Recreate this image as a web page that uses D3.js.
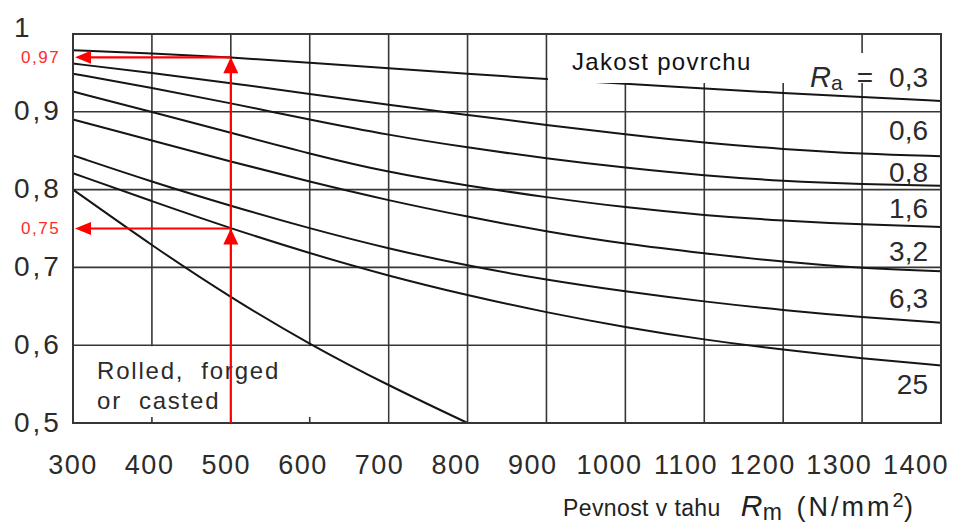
<!DOCTYPE html>
<html>
<head>
<meta charset="utf-8">
<script src="https://cdn.jsdelivr.net/npm/d3@7"></script>
<style>
  html, body { margin: 0; padding: 0; background: #fff; }
  svg { display: block; font-family: "Liberation Sans", Arial, sans-serif; }
  text { white-space: pre; }
</style>
</head>
<body>
<svg id="chart" width="965" height="525"></svg>
<script>
// Tensile strength Rm (N/mm2) and the factor axis
const rmTicks = [300, 400, 500, 600, 700, 800, 900, 1000, 1100, 1200, 1300, 1400];
const factorTicks = [0.5, 0.6, 0.7, 0.8, 0.9, 1];
const factorTickLabels = ["0,5", "0,6", "0,7", "0,8", "0,9", "1"];

// Surface roughness classes Ra
const roughnessLabels = ["0,3", "0,6", "0,8", "1,6", "3,2", "6,3", "25"];
const ra03 = [0.979, 0.975, 0.970, 0.963, 0.956, 0.949, 0.942, 0.936, 0.930, 0.924, 0.919, 0.914];
const ra06 = [0.962, 0.950, 0.937, 0.923, 0.909, 0.896, 0.883, 0.871, 0.860, 0.852, 0.846, 0.843];
const ra08 = [0.949, 0.931, 0.911, 0.890, 0.870, 0.854, 0.840, 0.828, 0.818, 0.811, 0.807, 0.805];
const ra16 = [0.926, 0.900, 0.873, 0.846, 0.822, 0.805, 0.790, 0.777, 0.767, 0.760, 0.755, 0.752];
const ra32 = [0.890, 0.863, 0.836, 0.810, 0.786, 0.765, 0.746, 0.730, 0.718, 0.707, 0.699, 0.695];
const ra63 = [0.844, 0.810, 0.779, 0.750, 0.724, 0.702, 0.684, 0.669, 0.656, 0.645, 0.636, 0.629];
const ra25 = [0.821, 0.785, 0.750, 0.718, 0.689, 0.664, 0.642, 0.623, 0.607, 0.594, 0.583, 0.574];

// Rolled, forged or casted surface (runs out at 0,5)
const rolledRm = [300, 400, 500, 600, 700, 800];
const rolled = [0.800, 0.728, 0.661, 0.601, 0.548, 0.500];

// Worked example read-off at Rm = 500
const exampleRm = 500;
const exampleValues = [0.97, 0.75];
const exampleLabels = ["0,97", "0,75"];

const series = [ra03, ra06, ra08, ra16, ra32, ra63, ra25];

const svg = d3.select("#chart");
const plotLeft = 73, plotRight = 941, plotTop = 34, plotBottom = 423;

const x = d3.scaleLinear().domain([300, 1400]).range([plotLeft, plotRight]);
const y = d3.scaleLinear().domain([0.5, 1]).range([plotBottom, plotTop]);
// tick labels along the bottom are set on a slightly tighter pitch
const xLabel = d3.scaleLinear().domain([300, 1400]).range([73, 916]);

const gridColor = "#363636";
const textColor = "#2b2b2b";

// grid
const grid = svg.append("g");
grid.selectAll("line.v").data(rmTicks).join("line")
  .attr("x1", d => x(d)).attr("x2", d => x(d))
  .attr("y1", plotTop).attr("y2", plotBottom)
  .attr("stroke", gridColor).attr("stroke-width", 1.6);
grid.selectAll("line.h").data(factorTicks).join("line")
  .attr("x1", plotLeft).attr("x2", plotRight)
  .attr("y1", d => y(d)).attr("y2", d => y(d))
  .attr("stroke", gridColor).attr("stroke-width", 1.6);

// caption panel in the lower-left cell row
grid.append("rect")
  .attr("x", x(300) + 1).attr("y", y(0.6) + 1)
  .attr("width", x(700) - x(300) - 2).attr("height", y(0.5) - y(0.6) - 2.2)
  .attr("fill", "#fff");
grid.selectAll("line.tick").data([400, 500, 600]).join("line")
  .attr("x1", d => x(d)).attr("x2", d => x(d))
  .attr("y1", y(0.5) - 6).attr("y2", y(0.5))
  .attr("stroke", gridColor).attr("stroke-width", 1.6);

// curves
const line = d3.line()
  .x((d, i) => x(rmTicks[i]))
  .y(d => y(d))
  .curve(d3.curveBasis);

svg.append("g").selectAll("path").data(series).join("path")
  .attr("d", line)
  .attr("fill", "none")
  .attr("stroke", "#151515")
  .attr("stroke-width", 2);

svg.append("path")
  .attr("d", d3.line().x((d, i) => x(rolledRm[i])).y(d => y(d)).curve(d3.curveBasis)(rolled))
  .attr("fill", "none")
  .attr("stroke", "#151515")
  .attr("stroke-width", 2);

// legend panel in the upper-right cell row
svg.append("rect")
  .attr("x", x(900) + 1.5).attr("y", y(1) + 1)
  .attr("width", x(1400) - x(900) - 2.5).attr("height", y(0.937) - y(1) - 1)
  .attr("fill", "#fff");
svg.append("line")
  .attr("x1", x(1300)).attr("x2", x(1300))
  .attr("y1", y(1)).attr("y2", y(1) + 19)
  .attr("stroke", gridColor).attr("stroke-width", 1.6);

// frame
svg.append("rect")
  .attr("x", plotLeft).attr("y", plotTop)
  .attr("width", plotRight - plotLeft).attr("height", plotBottom - plotTop)
  .attr("fill", "none").attr("stroke", gridColor).attr("stroke-width", 2);

// y tick labels
svg.append("g").selectAll("text").data(factorTicks).join("text")
  .attr("x", 14)
  .attr("y", d => y(d) + (d === 1 ? -7 : -1))
  .attr("dominant-baseline", "central")
  .attr("font-size", 28)
  .attr("letter-spacing", 3)
  .attr("fill", textColor)
  .text((d, i) => factorTickLabels[i]);

// x tick labels
svg.append("g").selectAll("text").data(rmTicks).join("text")
  .attr("x", d => xLabel(d))
  .attr("y", 474)
  .attr("text-anchor", "middle")
  .attr("font-size", 27)
  .attr("letter-spacing", 1.5)
  .attr("fill", textColor)
  .text(d => d);

// x axis title
const title = svg.append("text")
  .attr("x", 563).attr("y", 516)
  .attr("fill", "#222")
  .attr("font-size", 23)
  .attr("letter-spacing", 0.4);
title.append("tspan").text("Pevnost v tahu");
title.append("tspan").attr("dx", 20).attr("font-style", "italic").attr("font-size", 30).text("R");
title.append("tspan").attr("dy", 4).attr("font-size", 23).text("m");
title.append("tspan").attr("dy", -4).attr("dx", 14).attr("letter-spacing", 3).attr("font-size", 27).text("(N/mm");
title.append("tspan").attr("dy", -9).attr("font-size", 20).text("2");
title.append("tspan").attr("dy", 9).attr("font-size", 27).text(")");

// legend heading
svg.append("text")
  .attr("x", 572).attr("y", 70)
  .attr("font-size", 24)
  .attr("letter-spacing", 1.3)
  .attr("fill", "#111")
  .text("Jakost povrchu");

// roughness labels at the right edge, each sitting just above its curve
const labelX = 928;
const ends = series.map(s => y(s[s.length - 1]));
roughnessLabels.forEach((lab, i) => {
  let cy;
  if (i === 0) cy = ends[0] - 24;
  else if (i === series.length - 1) cy = ends[i] + 19;
  else cy = (ends[i - 1] + ends[i]) / 2 + 2;
  const t = svg.append("text")
    .attr("x", labelX).attr("y", cy)
    .attr("dominant-baseline", "central")
    .attr("text-anchor", "end")
    .attr("font-size", 28)
    .attr("fill", textColor);
  if (i === 0) {
    t.append("tspan").attr("font-style", "italic").attr("font-size", 29).text("R");
    t.append("tspan").attr("dy", 5).attr("font-size", 21).text("a");
    t.append("tspan").attr("dy", -5).attr("dx", 14).text("=");
    t.append("tspan").attr("dx", 16).text(lab);
  } else {
    t.text(lab);
  }
});

// rolled / forged / casted caption
const cap = svg.append("text")
  .attr("font-size", 24).attr("letter-spacing", 1.8).attr("fill", textColor);
cap.append("tspan").attr("x", 97).attr("y", 379).text("Rolled,  forged");
cap.append("tspan").attr("x", 97).attr("y", 409).text("or  casted");

// worked example: read-off arrows at Rm = 500
const red = "#ff0000";
const ann = svg.append("g");
ann.append("line")
  .attr("x1", x(exampleRm)).attr("x2", x(exampleRm))
  .attr("y1", y(0.5)).attr("y2", y(d3.max(exampleValues)) + 8)
  .attr("stroke", red).attr("stroke-width", 2.2);
exampleValues.forEach((v, i) => {
  const px = x(exampleRm), py = y(v), lx = x(300) + 2;
  ann.append("line")
    .attr("x1", px).attr("x2", lx + 12)
    .attr("y1", py).attr("y2", py)
    .attr("stroke", red).attr("stroke-width", 2.2);
  // left-pointing head
  ann.append("path")
    .attr("d", `M${lx},${py} L${lx + 16},${py - 6.5} L${lx + 16},${py + 6.5} Z`)
    .attr("fill", red);
  // upward head at the curve
  ann.append("path")
    .attr("d", `M${px},${py} L${px - 7.5},${py + 16} L${px + 7.5},${py + 16} Z`)
    .attr("fill", red);
  ann.append("text")
    .attr("x", 21).attr("y", py)
    .attr("dominant-baseline", "central")
    .attr("font-size", 17)
    .attr("letter-spacing", 1.5)
    .attr("fill", "#ff2b2b")
    .text(exampleLabels[i]);
});
</script>
</body>
</html>
